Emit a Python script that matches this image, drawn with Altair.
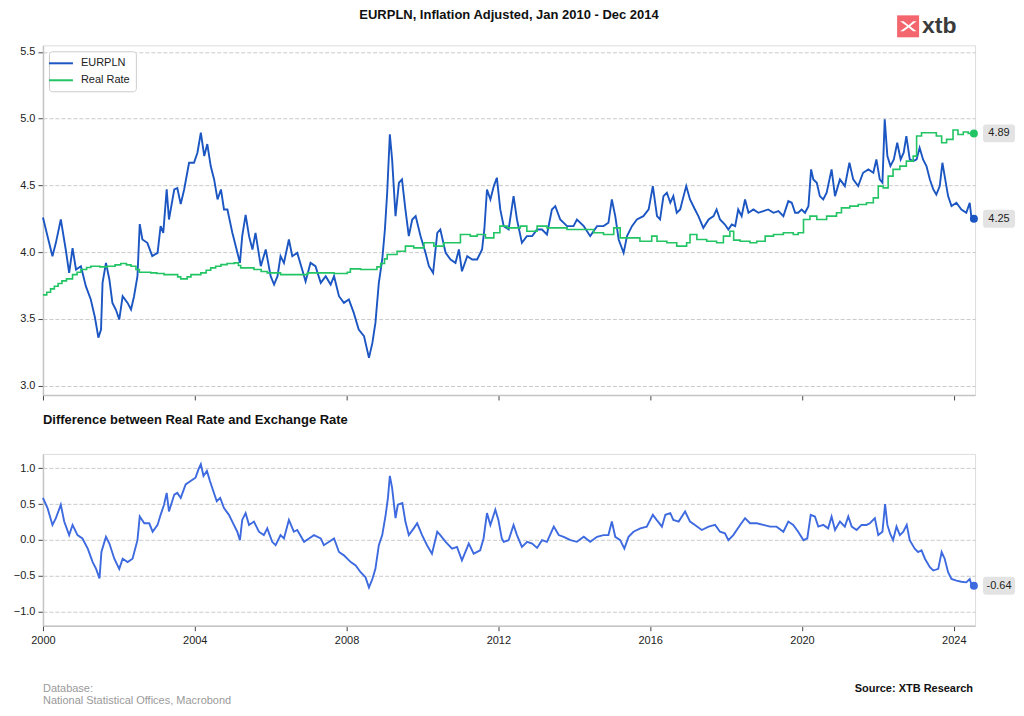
import altair as alt
import pandas as pd

# ---------------- data ----------------
eur_years = [2000.00, 2000.12, 2000.25, 2000.34, 2000.47, 2000.60, 2000.69, 2000.78, 2000.87, 2001.00,
             2001.13, 2001.26, 2001.37, 2001.46, 2001.53, 2001.57, 2001.66, 2001.75, 2001.83, 2001.92,
             2002.01, 2002.10, 2002.23, 2002.32, 2002.40, 2002.49, 2002.55, 2002.62, 2002.75, 2002.88,
             2003.02, 2003.10, 2003.17, 2003.26, 2003.32, 2003.46, 2003.54, 2003.63, 2003.72, 2003.85,
             2003.98, 2004.07, 2004.16, 2004.25, 2004.33, 2004.42, 2004.51, 2004.60, 2004.69, 2004.77,
             2004.86, 2004.99, 2005.08, 2005.19, 2005.25, 2005.34, 2005.43, 2005.52, 2005.60, 2005.74,
             2005.87, 2006.00, 2006.09, 2006.18, 2006.26, 2006.35, 2006.48, 2006.57, 2006.70, 2006.83,
             2006.92, 2007.05, 2007.18, 2007.32, 2007.45, 2007.58, 2007.67, 2007.80, 2007.93, 2008.06,
             2008.19, 2008.32, 2008.46, 2008.59, 2008.68, 2008.76, 2008.85, 2008.94, 2009.01, 2009.07,
             2009.14, 2009.20, 2009.29, 2009.38, 2009.46, 2009.55, 2009.64, 2009.73, 2009.82, 2009.95,
             2010.08, 2010.17, 2010.28, 2010.39, 2010.47, 2010.61, 2010.74, 2010.87, 2010.96, 2011.04,
             2011.18, 2011.31, 2011.44, 2011.57, 2011.63, 2011.70, 2011.79, 2011.88, 2011.96, 2012.05,
             2012.14, 2012.27, 2012.40, 2012.49, 2012.62, 2012.75, 2012.89, 2013.02, 2013.15, 2013.28,
             2013.41, 2013.50, 2013.63, 2013.81, 2013.98, 2014.07, 2014.25, 2014.42, 2014.60, 2014.77,
             2014.90, 2014.99, 2015.08, 2015.17, 2015.30, 2015.39, 2015.52, 2015.65, 2015.82, 2015.96,
             2016.07, 2016.18, 2016.26, 2016.35, 2016.44, 2016.53, 2016.61, 2016.70, 2016.79, 2016.88,
             2016.95, 2017.05, 2017.18, 2017.27, 2017.40, 2017.54, 2017.67, 2017.75, 2017.84, 2017.97,
             2018.06, 2018.15, 2018.24, 2018.32, 2018.41, 2018.50, 2018.59, 2018.72, 2018.85, 2018.98,
             2019.11, 2019.25, 2019.38, 2019.51, 2019.64, 2019.73, 2019.82, 2019.90, 2019.99, 2020.08,
             2020.17, 2020.24, 2020.30, 2020.39, 2020.47, 2020.56, 2020.65, 2020.78, 2020.87, 2021.00,
             2021.13, 2021.25, 2021.35, 2021.48, 2021.61, 2021.75, 2021.88, 2021.96, 2022.05, 2022.12,
             2022.18, 2022.25, 2022.33, 2022.42, 2022.51, 2022.60, 2022.68, 2022.75, 2022.84, 2022.93,
             2023.02, 2023.10, 2023.19, 2023.28, 2023.37, 2023.46, 2023.54, 2023.63, 2023.70, 2023.76,
             2023.85, 2023.94, 2024.07, 2024.20, 2024.33, 2024.42, 2024.46, 2024.53]
eur_values = [4.26, 4.12, 3.97, 4.07, 4.245, 4.02, 3.845, 4.03, 3.87, 3.895,
              3.745, 3.645, 3.51, 3.36, 3.42, 3.77, 3.92, 3.795, 3.62, 3.57,
              3.495, 3.67, 3.62, 3.57, 3.67, 3.82, 4.21, 4.095, 4.07, 3.97,
              3.995, 4.195, 4.145, 4.47, 4.245, 4.47, 4.48, 4.36, 4.47, 4.67,
              4.67, 4.745, 4.895, 4.72, 4.81, 4.645, 4.545, 4.395, 4.47, 4.32,
              4.32, 4.145, 4.045, 3.92, 4.12, 4.28, 4.12, 4.02, 4.145, 3.895,
              4.02, 3.82, 3.757, 3.82, 3.97, 3.92, 4.095, 3.97, 3.995, 3.87,
              3.78, 3.92, 3.895, 3.77, 3.82, 3.757, 3.82, 3.67, 3.62, 3.645,
              3.545, 3.42, 3.37, 3.208, 3.32, 3.47, 3.77, 3.945, 4.17, 4.445,
              4.883, 4.695, 4.27, 4.52, 4.545, 4.32, 4.12, 4.245, 4.27, 4.12,
              3.995, 3.895, 3.845, 4.145, 4.17, 3.995, 3.945, 3.92, 4.02, 3.857,
              3.97, 3.945, 3.945, 4.02, 4.17, 4.47, 4.395, 4.495, 4.558, 4.32,
              4.195, 4.17, 4.42, 4.245, 4.07, 4.12, 4.12, 4.17, 4.17, 4.132,
              4.32, 4.345, 4.245, 4.195, 4.195, 4.245, 4.195, 4.12, 4.195, 4.195,
              4.22, 4.395, 4.27, 4.095, 3.995, 4.12, 4.195, 4.245, 4.27, 4.32,
              4.495, 4.27, 4.245, 4.42, 4.445, 4.37, 4.42, 4.295, 4.32, 4.42,
              4.495, 4.395, 4.32, 4.27, 4.182, 4.245, 4.27, 4.32, 4.245, 4.207,
              4.17, 4.207, 4.195, 4.32, 4.27, 4.395, 4.295, 4.32, 4.295, 4.307,
              4.32, 4.295, 4.307, 4.27, 4.382, 4.37, 4.295, 4.295, 4.32, 4.295,
              4.345, 4.62, 4.545, 4.52, 4.42, 4.395, 4.445, 4.62, 4.42, 4.545,
              4.495, 4.67, 4.545, 4.495, 4.595, 4.62, 4.595, 4.695, 4.545, 4.52,
              4.995, 4.72, 4.645, 4.695, 4.82, 4.695, 4.745, 4.87, 4.695, 4.682,
              4.695, 4.782, 4.695, 4.645, 4.545, 4.47, 4.432, 4.495, 4.67, 4.57,
              4.42, 4.345, 4.37, 4.32, 4.295, 4.37, 4.27, 4.25]

rr_years = [2000.00, 2000.10, 2000.20, 2000.30, 2000.40, 2000.50, 2000.62, 2000.78, 2000.90, 2001.00,
            2001.15, 2001.26, 2001.50, 2001.70, 2001.90, 2002.05, 2002.20, 2002.32, 2002.45, 2002.54,
            2002.84, 2003.00, 2003.19, 2003.46, 2003.55, 2003.63, 2003.80, 2003.90, 2004.16, 2004.30,
            2004.42, 2004.55, 2004.69, 2004.85, 2005.04, 2005.15, 2005.21, 2005.56, 2005.75, 2005.91,
            2006.26, 2006.61, 2006.97, 2007.32, 2007.67, 2008.02, 2008.10, 2008.37, 2008.72, 2008.80,
            2008.90, 2009.00, 2009.07, 2009.33, 2009.55, 2009.77, 2010.04, 2010.30, 2010.56, 2010.82,
            2011.00, 2011.26, 2011.44, 2011.66, 2011.88, 2012.04, 2012.23, 2012.58, 2012.75, 2013.02,
            2013.28, 2013.54, 2013.81, 2014.16, 2014.51, 2014.77, 2015.04, 2015.21, 2015.47, 2015.73,
            2016.04, 2016.18, 2016.44, 2016.70, 2016.96, 2017.05, 2017.23, 2017.49, 2017.75, 2017.93,
            2018.10, 2018.20, 2018.37, 2018.63, 2018.81, 2019.03, 2019.25, 2019.51, 2019.77, 2019.90,
            2020.04, 2020.21, 2020.39, 2020.65, 2020.91, 2021.04, 2021.26, 2021.48, 2021.70, 2021.88,
            2022.01, 2022.14, 2022.27, 2022.40, 2022.58, 2022.75, 2022.93, 2023.02, 2023.15, 2023.37,
            2023.54, 2023.68, 2023.81, 2023.98, 2024.11, 2024.25, 2024.38, 2024.53]
rr_values = [3.68, 3.70, 3.725, 3.745, 3.765, 3.785, 3.80, 3.832, 3.85, 3.87,
             3.885, 3.895, 3.89, 3.895, 3.905, 3.915, 3.905, 3.895, 3.87, 3.85,
             3.845, 3.84, 3.832, 3.832, 3.815, 3.80, 3.815, 3.832, 3.845, 3.865,
             3.882, 3.895, 3.907, 3.915, 3.92, 3.90, 3.882, 3.87, 3.855, 3.845,
             3.832, 3.832, 3.845, 3.845, 3.84, 3.85, 3.875, 3.87, 3.87, 3.89,
             3.915, 3.95, 3.982, 4.007, 4.045, 4.032, 4.07, 4.045, 4.07, 4.07,
             4.132, 4.12, 4.132, 4.107, 4.145, 4.195, 4.182, 4.195, 4.157, 4.195,
             4.182, 4.182, 4.17, 4.17, 4.145, 4.132, 4.182, 4.107, 4.107, 4.082,
             4.12, 4.082, 4.07, 4.045, 4.07, 4.132, 4.095, 4.082, 4.07, 4.12,
             4.157, 4.09, 4.082, 4.07, 4.082, 4.12, 4.132, 4.145, 4.132, 4.145,
             4.245, 4.27, 4.245, 4.27, 4.295, 4.332, 4.345, 4.357, 4.37, 4.407,
             4.495, 4.482, 4.57, 4.62, 4.645, 4.682, 4.72, 4.87, 4.895, 4.895,
             4.87, 4.82, 4.845, 4.915, 4.882, 4.90, 4.89, 4.89]

diff_years = [2000.00, 2000.12, 2000.25, 2000.34, 2000.47, 2000.56, 2000.69, 2000.78, 2000.91, 2001.04,
              2001.18, 2001.31, 2001.40, 2001.49, 2001.54, 2001.66, 2001.75, 2001.88, 2002.01, 2002.10,
              2002.23, 2002.36, 2002.49, 2002.55, 2002.67, 2002.80, 2002.89, 2003.02, 2003.10, 2003.19,
              2003.26, 2003.32, 2003.46, 2003.54, 2003.63, 2003.76, 2003.89, 2004.02, 2004.10, 2004.16,
              2004.23, 2004.32, 2004.40, 2004.49, 2004.58, 2004.67, 2004.77, 2004.90, 2005.03, 2005.12,
              2005.19, 2005.25, 2005.34, 2005.43, 2005.56, 2005.69, 2005.82, 2005.91, 2006.04, 2006.13,
              2006.26, 2006.35, 2006.48, 2006.61, 2006.70, 2006.88, 2007.01, 2007.14, 2007.32, 2007.40,
              2007.54, 2007.67, 2007.80, 2007.93, 2008.11, 2008.24, 2008.37, 2008.50, 2008.59, 2008.68,
              2008.76, 2008.85, 2008.94, 2009.03, 2009.09, 2009.14, 2009.20, 2009.29, 2009.35, 2009.47,
              2009.55, 2009.64, 2009.77, 2009.86, 2009.99, 2010.12, 2010.25, 2010.39, 2010.47, 2010.61,
              2010.78, 2010.91, 2011.04, 2011.22, 2011.35, 2011.52, 2011.61, 2011.70, 2011.79, 2011.92,
              2012.00, 2012.09, 2012.14, 2012.27, 2012.40, 2012.49, 2012.62, 2012.76, 2012.89, 2013.02,
              2013.15, 2013.28, 2013.46, 2013.59, 2013.72, 2013.90, 2014.07, 2014.25, 2014.42, 2014.60,
              2014.77, 2014.90, 2014.99, 2015.08, 2015.21, 2015.32, 2015.43, 2015.56, 2015.74, 2015.91,
              2016.07, 2016.17, 2016.31, 2016.40, 2016.53, 2016.61, 2016.75, 2016.92, 2017.05, 2017.18,
              2017.36, 2017.54, 2017.71, 2017.84, 2017.97, 2018.06, 2018.19, 2018.37, 2018.50, 2018.63,
              2018.81, 2018.98, 2019.16, 2019.33, 2019.51, 2019.64, 2019.77, 2019.90, 2020.04, 2020.14,
              2020.23, 2020.34, 2020.43, 2020.56, 2020.69, 2020.78, 2020.87, 2021.00, 2021.13, 2021.22,
              2021.31, 2021.44, 2021.57, 2021.70, 2021.79, 2021.92, 2022.01, 2022.12, 2022.19, 2022.25,
              2022.32, 2022.40, 2022.49, 2022.58, 2022.67, 2022.76, 2022.84, 2022.97, 2023.06, 2023.15,
              2023.24, 2023.37, 2023.46, 2023.59, 2023.68, 2023.76, 2023.85, 2023.94, 2024.07, 2024.20,
              2024.33, 2024.42, 2024.46, 2024.53]
diff_values = [0.585, 0.443, 0.208, 0.302, 0.49, 0.255, 0.066, 0.208, 0.066, 0.019,
               -0.123, -0.311, -0.406, -0.538, -0.17, 0.042, -0.052, -0.264, -0.406, -0.264,
               -0.311, -0.264, -0.005, 0.325, 0.231, 0.231, 0.113, 0.208, 0.349, 0.49,
               0.656, 0.396, 0.632, 0.656, 0.585, 0.774, 0.821, 0.868, 0.986, 1.057,
               0.892, 0.962, 0.821, 0.679, 0.538, 0.585, 0.443, 0.349, 0.208, 0.113,
               -0.005, 0.278, 0.373, 0.208, 0.255, 0.113, 0.066, 0.16, -0.028, -0.075,
               0.066, 0.019, 0.278, 0.113, 0.137, -0.028, 0.019, 0.066, 0.019, -0.075,
               -0.028, 0.019, -0.17, -0.217, -0.311, -0.358, -0.453, -0.524, -0.665, -0.547,
               -0.406, -0.075, 0.066, 0.349, 0.585, 0.892, 0.726, 0.302, 0.49, 0.514,
               0.255, 0.066, 0.16, 0.231, 0.066, -0.075, -0.193, 0.113, 0.066, -0.028,
               -0.123, -0.099, -0.288, -0.052, -0.193, -0.146, 0.019, 0.373, 0.208, 0.42,
               0.278, 0.019, -0.028, -0.005, 0.208, 0.066, -0.099, -0.028, -0.052, -0.113,
               -0.005, -0.028, 0.184, 0.066, 0.042, -0.005, -0.028, 0.042, -0.028, 0.042,
               0.066, 0.066, 0.255, 0.042, -0.005, -0.123, 0.042, 0.113, 0.16, 0.184,
               0.349, 0.278, 0.184, 0.349, 0.373, 0.278, 0.255, 0.396, 0.255, 0.208,
               0.137, 0.184, 0.208, 0.113, 0.09, -0.005, 0.066, 0.208, 0.302, 0.231,
               0.231, 0.208, 0.184, 0.184, 0.113, 0.255, 0.208, 0.113, -0.005, 0.019,
               0.349, 0.325, 0.184, 0.208, 0.16, 0.325, 0.137, 0.255, 0.184, 0.325,
               0.184, 0.137, 0.208, 0.208, 0.231, 0.302, 0.066, 0.113, 0.5, 0.208,
               0.09, -0.005, 0.184, 0.066, 0.113, 0.208, -0.005, -0.123, -0.17, -0.146,
               -0.264, -0.382, -0.429, -0.406, -0.17, -0.264, -0.453, -0.547, -0.571, -0.585,
               -0.594, -0.547, -0.618, -0.642]

series_names = ["EURPLN", "Real Rate"]
series_colors = ["#1b56c2", "#22c463"]
diff_color = "#3e6ae0"
x_ticks = [2000, 2004, 2008, 2012, 2016, 2020, 2024]
top_ticks = [3.0, 3.5, 4.0, 4.5, 5.0, 5.5]
bottom_ticks = [-1.0, -0.5, 0.0, 0.5, 1.0]

main_title = "EURPLN, Inflation Adjusted, Jan 2010 - Dec 2014"
sub_title = "Difference between Real Rate and Exchange Rate"
footer_left_1 = "Database:"
footer_left_2 = "National Statistical Offices, Macrobond"
footer_right = "Source: XTB Research"
logo_text = "xtb"

# ---------------- layout constants ----------------
FONT = "Liberation Sans"
W = 933
H_TOP = 350
H_BOT = 172

lines_df = pd.concat([
    pd.DataFrame({"year": eur_years, "value": eur_values, "series": series_names[0]}),
    pd.DataFrame({"year": rr_years, "value": rr_values, "series": series_names[1]}),
], ignore_index=True)
diff_df = pd.DataFrame({"year": diff_years, "value": diff_values})

end_top = pd.DataFrame({
    "year": [eur_years[-1], rr_years[-1]],
    "value": [eur_values[-1], rr_values[-1]],
    "series": series_names,
})
end_top["label"] = [f"{v:.2f}" for v in end_top["value"]]
end_bot = pd.DataFrame({"year": [diff_years[-1]], "value": [diff_values[-1]]})
end_bot["label"] = [f"{v:.2f}" for v in end_bot["value"]]

x_scale = alt.Scale(domain=[2000, 2024.56], nice=False, zero=False)
color_scale = alt.Scale(domain=series_names, range=series_colors)

common_axis = dict(domainColor="#c4c4c4", domainWidth=1.5, tickColor="#444444", tickSize=5,
                   tickWidth=1, labelFont=FONT, labelFontSize=11, labelColor="#222222",
                   title=None)
y_axis_kw = dict(grid=True, gridColor="#cacaca", gridDash=[4, 2], gridWidth=1,
                 labelPadding=3, format=".1f", **common_axis)

ROUND_BOX = ("M-0.82,-0.56 H0.82 A0.18,0.18 0 0 1 1,-0.38 V0.38 A0.18,0.18 0 0 1 0.82,0.56 "
             "H-0.82 A0.18,0.18 0 0 1 -1,0.38 V-0.38 A0.18,0.18 0 0 1 -0.82,-0.56 Z")
LEGEND_LINE = "M-2.4,0H2.4"
LOGO_X = ("M-0.8,-0.5 L-0.1,0 L-0.8,0.5 L-0.45,0.5 L0.05,0.12 L0.5,0.5 L0.85,0.5 L0.2,0 "
          "L0.85,-0.5 L0.5,-0.5 L0.05,-0.12 L-0.45,-0.5 Z")
BOX_X = W + 24


def text_layer(txt, x, y, align="left", size=11, weight="normal", color="#222222", baseline="middle"):
    return alt.Chart(pd.DataFrame({"t": [txt]})).mark_text(
        align=align, baseline=baseline, font=FONT, fontSize=size, fontWeight=weight, color=color
    ).encode(x=alt.value(x), y=alt.value(y), text="t:N")


# ---------------- top panel ----------------
x_top = alt.X("year:Q", scale=x_scale,
              axis=alt.Axis(values=x_ticks, labels=False, grid=False, **common_axis))
y_top = alt.Y("value:Q", scale=alt.Scale(domain=[2.93, 5.55], nice=False, zero=False),
              axis=alt.Axis(values=top_ticks, **y_axis_kw))

legend = alt.Legend(title=None, orient="top-left", offset=6, padding=6, strokeColor="#cccccc",
                    fillColor="white", cornerRadius=3, symbolType=LEGEND_LINE, symbolSize=100,
                    symbolStrokeWidth=2, labelFont=FONT, labelFontSize=11, labelColor="#222222",
                    labelOffset=14, rowPadding=6)
color_enc = alt.Color("series:N", scale=color_scale, legend=legend)

base_top = alt.Chart(lines_df)
eur_line = base_top.transform_filter(alt.datum.series == series_names[0]).mark_line(
    strokeWidth=1.9).encode(x=x_top, y=y_top, color=color_enc)
rr_line = base_top.transform_filter(alt.datum.series == series_names[1]).mark_line(
    strokeWidth=1.6, interpolate="step-after").encode(x=x_top, y=y_top, color=color_enc)

top_dots = alt.Chart(end_top).mark_circle(size=64, opacity=1).encode(
    x=x_top, y=y_top, color=alt.Color("series:N", scale=color_scale, legend=None))
top_boxes = alt.Chart(end_top).mark_point(shape=ROUND_BOX, size=1024, filled=True,
                                          color="#e3e3e3", opacity=1).encode(
    x=alt.value(BOX_X), y=y_top)
top_labels = alt.Chart(end_top).mark_text(font=FONT, fontSize=11, color="#222222",
                                          align="center", baseline="middle").encode(
    x=alt.value(BOX_X), y=y_top, text="label:N")

logo_rect = alt.Chart(pd.DataFrame({"a": [0]})).mark_rect(color="#f4666d").encode(
    x=alt.value(855), x2=alt.value(877), y=alt.value(-30), y2=alt.value(-8))
logo_mark = alt.Chart(pd.DataFrame({"a": [0]})).mark_point(
    shape=LOGO_X, size=400, filled=True, color="white", opacity=1).encode(
    x=alt.value(866), y=alt.value(-19))

top = alt.layer(
    eur_line, rr_line, top_dots, top_boxes, top_labels, logo_rect, logo_mark,
    text_layer(main_title, W / 2, -30, align="center", size=13, weight="bold", color="#111111"),
    text_layer(logo_text, 880, -19, size=23, weight="bold", color="#3b3b3b"),
).properties(width=W, height=H_TOP)

# ---------------- bottom panel ----------------
x_bot = alt.X("year:Q", scale=x_scale,
              axis=alt.Axis(values=x_ticks, grid=False, format="d", labelPadding=4,
                            labelFlush=False, **common_axis))
y_bot = alt.Y("value:Q", scale=alt.Scale(domain=[-1.2, 1.2], nice=False, zero=False),
              axis=alt.Axis(values=bottom_ticks, **y_axis_kw))

diff_line = alt.Chart(diff_df).mark_line(strokeWidth=1.9, color=diff_color).encode(x=x_bot, y=y_bot)
bot_dot = alt.Chart(end_bot).mark_circle(size=64, opacity=1, color=diff_color).encode(x=x_bot, y=y_bot)
bot_box = alt.Chart(end_bot).mark_point(shape=ROUND_BOX, size=1024, filled=True,
                                        color="#e3e3e3", opacity=1).encode(
    x=alt.value(BOX_X), y=y_bot)
bot_label = alt.Chart(end_bot).mark_text(font=FONT, fontSize=11, color="#222222",
                                         align="center", baseline="middle").encode(
    x=alt.value(BOX_X), y=y_bot, text="label:N")

bottom = alt.layer(
    diff_line, bot_dot, bot_box, bot_label,
    text_layer(sub_title, 0, -34, size=13, weight="bold", color="#111111"),
    text_layer(footer_left_1, 0, 235, size=11, color="#9a9a9a"),
    text_layer(footer_left_2, 0, 247, size=11, color="#9a9a9a"),
    text_layer(footer_right, W - 2, 235, align="right", size=11, weight="bold", color="#111111"),
).properties(width=W, height=H_BOT)

chart = alt.vconcat(top, bottom, spacing=12).properties(
    padding={"left": 4, "top": 0, "right": 0, "bottom": 0}
).configure_view(stroke=None).configure(background="white")

chart.save("out.html", embed_options={"renderer": "svg", "actions": False})
